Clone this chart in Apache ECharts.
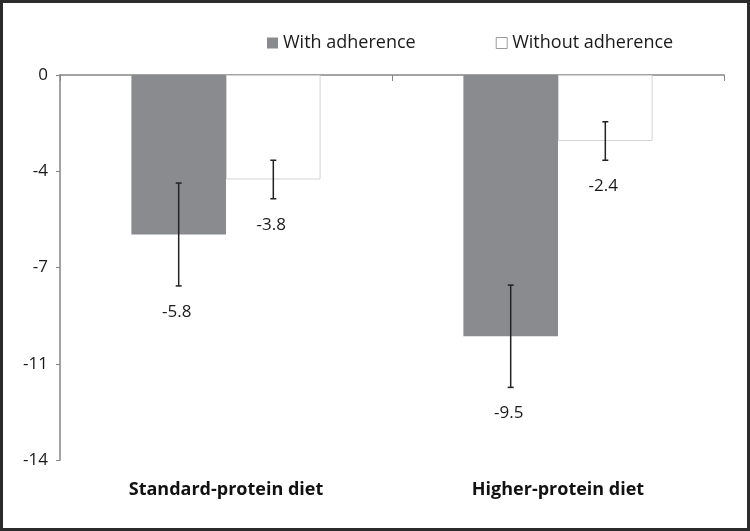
<!DOCTYPE html>
<html><head><meta charset="utf-8">
<script src="https://cdn.jsdelivr.net/npm/echarts@6/dist/echarts.min.js"></script>
<style>
html,body{margin:0;padding:0;background:#fff;}
#frame{width:750px;height:531px;box-sizing:border-box;border:3px solid #2b2b2b;position:relative;}
#chart{position:absolute;left:-3px;top:-3px;width:750px;height:531px;}
</style></head>
<body><div id="frame"><div id="chart"></div></div>
<script>
const categories = ['Standard-protein diet', 'Higher-protein diet'];
const seriesNames = ['With adherence', 'Without adherence'];
const withAdherence = [-5.8, -9.5];
const withoutAdherence = [-3.8, -2.4];
const errWith = [1.87, 1.86];
const errWithout = [0.7, 0.7];
const tickLabels = ['0', '-4', '-7', '-11', '-14'];

const FONT = '"Open Sans", "Liberation Sans", sans-serif';
const catGap = 0.43;

function errRender(errArr, sign) {
  return function (params, api) {
    const idx = api.value(0);
    const val = api.value(1);
    const err = errArr[idx];
    const band = api.size([1, 0])[0];
    const bw = band * (1 - catGap) / 2;
    const c = api.coord([idx, val]);
    const x = c[0] + sign * bw / 2;
    const yTop = api.coord([idx, val + err])[1];
    const yBot = api.coord([idx, val - err])[1];
    const cap = 3;
    const st = { stroke: '#222', lineWidth: 1.5 };
    return {
      type: 'group',
      children: [
        { type: 'line', shape: { x1: x, y1: yTop, x2: x, y2: yBot }, style: st },
        { type: 'line', shape: { x1: x - cap, y1: yTop, x2: x + cap, y2: yTop }, style: st },
        { type: 'line', shape: { x1: x - cap, y1: yBot, x2: x + cap, y2: yBot }, style: st },
        { type: 'text', style: { text: val.toFixed(1), x: x - 2, y: yBot + 26, textAlign: 'center', textVerticalAlign: 'middle', fill: '#1a1a1a', font: '17px ' + FONT } }
      ]
    };
  };
}

const chart = echarts.init(document.getElementById('chart'));
chart.setOption({
  animation: false,
  backgroundColor: 'transparent',
  legend: {
    data: [
      { name: seriesNames[0], icon: 'rect', itemStyle: { color: '#8a8b8f', borderWidth: 0 } },
      { name: seriesNames[1], icon: 'rect', itemStyle: { color: '#ffffff', borderColor: '#9a9a9a', borderWidth: 1 } }
    ],
    top: 29, left: 262,
    itemWidth: 11, itemHeight: 11, itemGap: 80,
    textStyle: { fontSize: 18, color: '#1a1a1a', fontFamily: FONT }
  },
  grid: { left: 60, right: 26, top: 75, bottom: 71 },
  xAxis: [
    {
      type: 'category', data: categories, position: 'top',
      axisLine: { show: true, onZero: false, lineStyle: { color: '#858585', width: 1.5 } },
      axisTick: { show: true, inside: true, length: 6, lineStyle: { color: '#858585' } },
      axisLabel: { show: false }
    },
    {
      type: 'category', data: categories, position: 'bottom',
      axisLine: { show: false }, axisTick: { show: false },
      axisLabel: { show: true, margin: 21, fontSize: 18, fontWeight: 'bold', color: '#111', fontFamily: FONT }
    }
  ],
  yAxis: {
    type: 'value', min: -14, max: 0, interval: 3.5,
    axisLine: { show: true, lineStyle: { color: '#858585', width: 1.5 } },
    axisTick: { show: true, length: 4, lineStyle: { color: '#858585' } },
    splitLine: { show: false },
    axisLabel: {
      margin: 12, fontSize: 17, color: '#1a1a1a', fontFamily: FONT,
      formatter: function (v) { return tickLabels[Math.round(-v / 3.5)]; }
    }
  },
  series: [
    {
      name: seriesNames[0], type: 'bar', data: withAdherence, xAxisIndex: 0,
      barGap: '0%', barCategoryGap: (catGap * 100) + '%',
      itemStyle: { color: '#8a8b8f' }
    },
    {
      name: seriesNames[1], type: 'bar', data: withoutAdherence, xAxisIndex: 0,
      barGap: '0%', barCategoryGap: (catGap * 100) + '%',
      itemStyle: { color: '#ffffff', borderColor: '#d4d4d4', borderWidth: 1 }
    },
    {
      type: 'custom', xAxisIndex: 0, silent: true, z: 10,
      renderItem: errRender(errWith, -1),
      data: withAdherence.map((v, i) => [i, v])
    },
    {
      type: 'custom', xAxisIndex: 0, silent: true, z: 10,
      renderItem: errRender(errWithout, 1),
      data: withoutAdherence.map((v, i) => [i, v])
    }
  ]
});
</script></body></html>
